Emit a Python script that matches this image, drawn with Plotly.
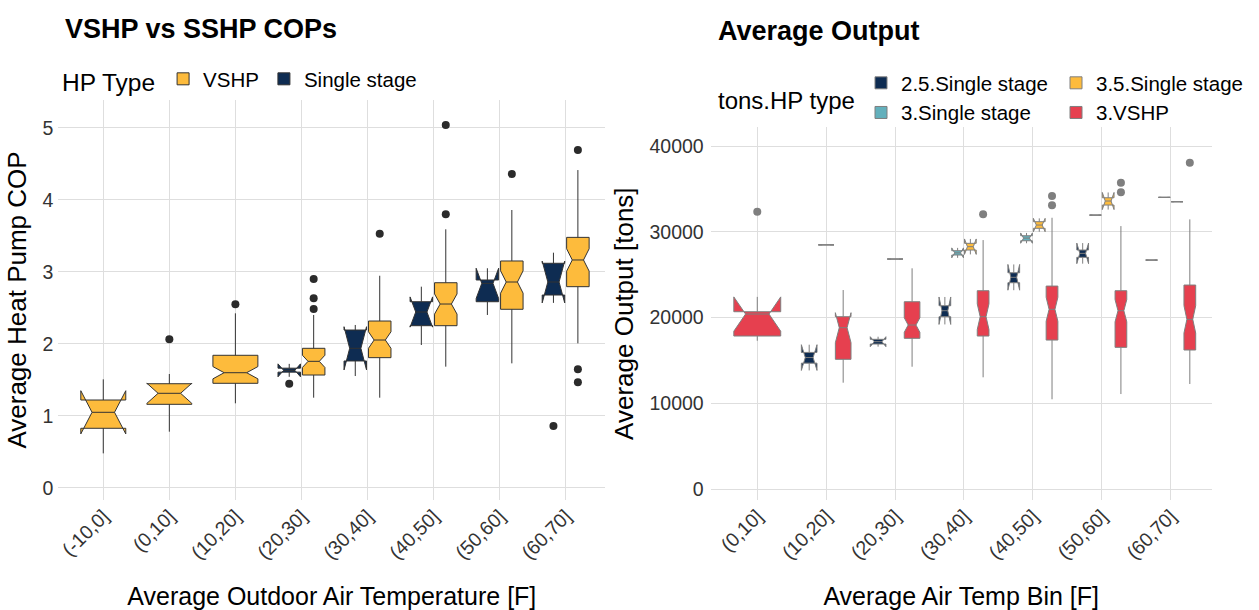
import plotly.graph_objects as go

# ---------------- Left panel data: COP by outdoor air temperature bin ----------------
cats_left = ["(-10,0]", "(0,10]", "(10,20]", "(20,30]", "(30,40]", "(40,50]", "(50,60]", "(60,70]"]
groups_left = ["Single stage", "VSHP"]          # dodge order (left to right)
legend_order_left = ["VSHP", "Single stage"]

vshp_cats = cats_left
vshp_q1 = [0.825, 1.158, 1.450, 1.565, 1.806, 2.250, 2.478, 2.792]
vshp_med = [1.047, 1.311, 1.597, 1.755, 2.051, 2.551, 2.857, 3.163]
vshp_q3 = [1.218, 1.444, 1.839, 1.936, 2.315, 2.847, 3.149, 3.477]
vshp_lo = [0.477, 0.778, 1.172, 1.250, 1.250, 1.681, 1.727, 2.005]
vshp_hi = [1.505, 1.579, 2.422, 2.399, 2.944, 3.589, 3.857, 4.412]
vshp_notch = [0.30, 0.14, 0.085, 0.085, 0.115, 0.14, 0.155, 0.155]
vshp_out = [[], [2.061], [2.547], [2.899, 2.63, 2.482], [3.528], [5.037, 3.797], [4.357], [4.69, 1.644, 1.464]]

ss_cats = ["(20,30]", "(30,40]", "(40,50]", "(50,60]", "(60,70]"]
ss_q1 = [1.605, 1.760, 2.250, 2.583, 2.676]
ss_med = [1.630, 1.936, 2.440, 2.838, 2.857]
ss_q3 = [1.660, 2.190, 2.583, 2.885, 3.117]
ss_lo = [1.590, 1.551, 1.982, 2.399, 2.660]
ss_hi = [1.670, 2.260, 2.792, 2.963, 3.264]
ss_notch = [0.09, 0.30, 0.21, 0.21, 0.29]
ss_out = [[1.444], [], [], [], [0.857]]

# ---------------- Right panel data: average output by air temperature bin ----------------
cats_right = ["(0,10]", "(10,20]", "(20,30]", "(30,40]", "(40,50]", "(50,60]", "(60,70]"]
groups_right = ["2.5.Single stage", "3.Single stage", "3.5.Single stage", "3.VSHP"]

s25_cats = ["(10,20]", "(20,30]", "(30,40]", "(40,50]", "(50,60]", "(60,70]"]
s25_q1 = [14700, 16930, 20110, 24070, 27030, 26710]
s25_med = [15350, 17200, 20810, 24700, 27490, 26710]
s25_q3 = [15950, 17475, 21390, 25230, 27880, 26710]
s25_lo = [14150, 16800, 19600, 23400, 26700, 26710]
s25_hi = [16600, 17600, 22100, 25900, 28300, 26710]
s25_notch = [1500, 580, 1600, 1500, 1200, 0]
s25_out = [[], [], [], [], [], []]

s3_cats = ["(10,20]", "(20,30]", "(30,40]", "(40,50]", "(50,60]", "(60,70]"]
s3_q1 = [28480, 26830, 27300, 28960, 31950, 34020]
s3_med = [28480, 26830, 27550, 29270, 31950, 34020]
s3_q3 = [28480, 26830, 27800, 29545, 31950, 34020]
s3_lo = [28480, 26830, 27050, 28800, 31950, 34020]
s3_hi = [28480, 26830, 28000, 29700, 31950, 34020]
s3_notch = [0, 0, 580, 600, 0, 0]
s3_out = [[], [], [], [], [], []]

s35_cats = ["(30,40]", "(40,50]", "(50,60]", "(60,70]"]
s35_q1 = [27880, 30410, 33120, 33505]
s35_med = [28270, 30790, 33590, 33505]
s35_q3 = [28660, 31180, 33970, 33505]
s35_lo = [27600, 30200, 32800, 33505]
s35_hi = [29000, 31400, 34300, 33505]
s35_notch = [900, 780, 1000, 0]
s35_out = [[], [], [], []]

v3_cats = cats_right
v3_q1 = [17860, 15145, 17590, 17860, 17390, 16540, 16230]
v3_med = [20420, 18830, 19140, 20110, 20970, 20810, 19800]
v3_q3 = [20690, 20110, 21855, 23140, 23680, 23140, 23800]
v3_lo = [17310, 12420, 14280, 13050, 10490, 11100, 12270]
v3_hi = [20800, 23220, 25750, 29040, 31640, 30670, 31450]
v3_notch = [2000, 1750, 850, 1500, 1400, 1300, 1600]
v3_out = [[32340], [], [], [32040], [34170, 33090], [35720, 34600], [38050]]

# ---------------- styling ----------------
NAVY = "#0E2C52"
YELLOW = "#FDBB3C"
TEAL = "#63B0BC"
RED = "#E6404F"
FONT = "Liberation Sans, Arial, sans-serif"
GRID = "#DEDEDE"
TICK = "#333333"

W, H = 1259, 610


def pack(cats, q1, med, q3, lo, hi, notch, out, color):
    return dict(cats=cats, q1=q1, med=med, q3=q3, lo=lo, hi=hi, notch=notch, out=out, color=color)


left_series = {
    "VSHP": pack(vshp_cats, vshp_q1, vshp_med, vshp_q3, vshp_lo, vshp_hi, vshp_notch, vshp_out, YELLOW),
    "Single stage": pack(ss_cats, ss_q1, ss_med, ss_q3, ss_lo, ss_hi, ss_notch, ss_out, NAVY),
}
right_series = {
    "2.5.Single stage": pack(s25_cats, s25_q1, s25_med, s25_q3, s25_lo, s25_hi, s25_notch, s25_out, NAVY),
    "3.Single stage": pack(s3_cats, s3_q1, s3_med, s3_q3, s3_lo, s3_hi, s3_notch, s3_out, TEAL),
    "3.5.Single stage": pack(s35_cats, s35_q1, s35_med, s35_q3, s35_lo, s35_hi, s35_notch, s35_out, YELLOW),
    "3.VSHP": pack(v3_cats, v3_q1, v3_med, v3_q3, v3_lo, v3_hi, v3_notch, v3_out, RED),
}

fig = go.Figure()
outlier_traces = []


def add_panel(series, order, cats, xaxis, yaxis, line_color, pt_color, legend_of, rank_of):
    present = {c: tuple(g for g in order if c in series[g]["cats"]) for c in cats}
    shown = set()
    for key in dict.fromkeys(present.values()):
        agroup = xaxis + "|" + "+".join(key)
        for g in key:
            s = series[g]
            idx = [i for i, c in enumerate(s["cats"]) if present[c] == key]
            if not idx:
                continue
            fig.add_trace(go.Box(
                x=[s["cats"][i] for i in idx],
                q1=[s["q1"][i] for i in idx],
                median=[s["med"][i] for i in idx],
                q3=[s["q3"][i] for i in idx],
                lowerfence=[s["lo"][i] for i in idx],
                upperfence=[s["hi"][i] for i in idx],
                notchspan=[s["notch"][i] for i in idx],
                boxpoints=False,
                notched=True, notchwidth=0.25, whiskerwidth=0,
                name=g, legendgroup=xaxis + g, showlegend=g not in shown,
                legend=legend_of[g], legendrank=rank_of[g],
                alignmentgroup=agroup, offsetgroup=g,
                fillcolor=s["color"], line=dict(color=line_color, width=1),
                hoverinfo="skip",
                xaxis=xaxis, yaxis=yaxis,
            ))
            shown.add(g)
            # outliers: scatter points dodged with the same grouping
            ox = [s["cats"][i] for i in idx for _ in s["out"][i]]
            oy = [v for i in idx for v in s["out"][i]]
            if not oy:
                ox, oy = [s["cats"][idx[0]]], [None]
            outlier_traces.append(go.Scatter(
                x=ox, y=oy, mode="markers", orientation="v",
                alignmentgroup=agroup, offsetgroup=g,
                marker=dict(color=pt_color, size=8, line=dict(width=0)),
                showlegend=False, hoverinfo="skip", xaxis=xaxis, yaxis=yaxis,
            ))


add_panel(left_series, groups_left, cats_left, "x", "y", "#333333", "#2B2B2B",
          {g: "legend" for g in groups_left},
          {g: i for i, g in enumerate(legend_order_left)})
add_panel(right_series, groups_right, cats_right, "x2", "y2", "#7F7F7F", "#7F7F7F",
          {"2.5.Single stage": "legend2", "3.Single stage": "legend2",
           "3.5.Single stage": "legend3", "3.VSHP": "legend3"},
          {g: i for i, g in enumerate(groups_right)})
for tr in outlier_traces:
    fig.add_trace(tr)

axis_common = dict(showgrid=True, gridcolor=GRID, gridwidth=1.2, zeroline=False, showline=False,
                   ticks="", tickfont=dict(family=FONT, size=19.5, color=TICK))

fig.update_layout(
    width=W, height=H,
    margin=dict(l=0, r=0, t=0, b=0),
    paper_bgcolor="white", plot_bgcolor="white",
    font=dict(family=FONT, color="black"),
    showlegend=True,
    boxmode="group", boxgap=0.26, boxgroupgap=0.08,
    scattermode="group", scattergap=0.26,
    xaxis=dict(axis_common, domain=[58.3 / W, 605.3 / W], anchor="y", type="category",
               categoryorder="array", categoryarray=cats_left, range=[-0.681, 7.6],
               tickangle=-45,
               title=dict(text="Average Outdoor Air Temperature [F]", font=dict(size=25), standoff=25)),
    yaxis=dict(axis_common, domain=[1 - 500 / H, 1 - 100 / H], anchor="x",
               range=[-0.171, 5.385], dtick=1, ticklabelstandoff=4,
               title=dict(text="Average Heat Pump COP", font=dict(size=26), standoff=8)),
    xaxis2=dict(axis_common, domain=[710.7 / W, 1211.7 / W], anchor="y2", type="category",
                categoryorder="array", categoryarray=cats_right, range=[-0.676, 6.595],
                tickangle=-45,
                title=dict(text="Average Air Temp Bin [F]", font=dict(size=25), standoff=25)),
    yaxis2=dict(axis_common, domain=[1 - 500 / H, 1 - 127.3 / H], anchor="x2",
                range=[-1247, 42180], dtick=10000, tickformat="d", ticklabelstandoff=6,
                title=dict(text="Average Output [tons]", font=dict(size=26), standoff=8)),
    legend=dict(orientation="h", x=60 / W, y=1 - 80 / H, xanchor="left", yanchor="middle",
                title=dict(text="HP Type", side="left", font=dict(size=24.5)),
                font=dict(size=20.5), bgcolor="rgba(0,0,0,0)", itemclick=False,
                itemwidth=30, tracegroupgap=0),
    legend2=dict(orientation="v", x=861 / W, y=1 - 98 / H, xanchor="left", yanchor="middle",
                 font=dict(size=20.5), bgcolor="rgba(0,0,0,0)", itemclick=False,
                 tracegroupgap=0),
    legend3=dict(orientation="v", x=1056 / W, y=1 - 98 / H, xanchor="left", yanchor="middle",
                 font=dict(size=20.5), bgcolor="rgba(0,0,0,0)", itemclick=False,
                 tracegroupgap=0),
    annotations=[
        dict(text="<b>VSHP vs SSHP COPs</b>", x=63 / W, y=1 - 29 / H, xref="paper", yref="paper",
             xanchor="left", yanchor="middle", showarrow=False, font=dict(size=27, color="black")),
        dict(text="<b>Average Output</b>", x=716 / W, y=1 - 31 / H, xref="paper", yref="paper",
             xanchor="left", yanchor="middle", showarrow=False, font=dict(size=27, color="black")),
        dict(text="tons.HP type", x=716 / W, y=1 - 101 / H, xref="paper", yref="paper",
             xanchor="left", yanchor="middle", showarrow=False, font=dict(size=24, color="black")),
    ],
)

fig.write_html("out.html")
